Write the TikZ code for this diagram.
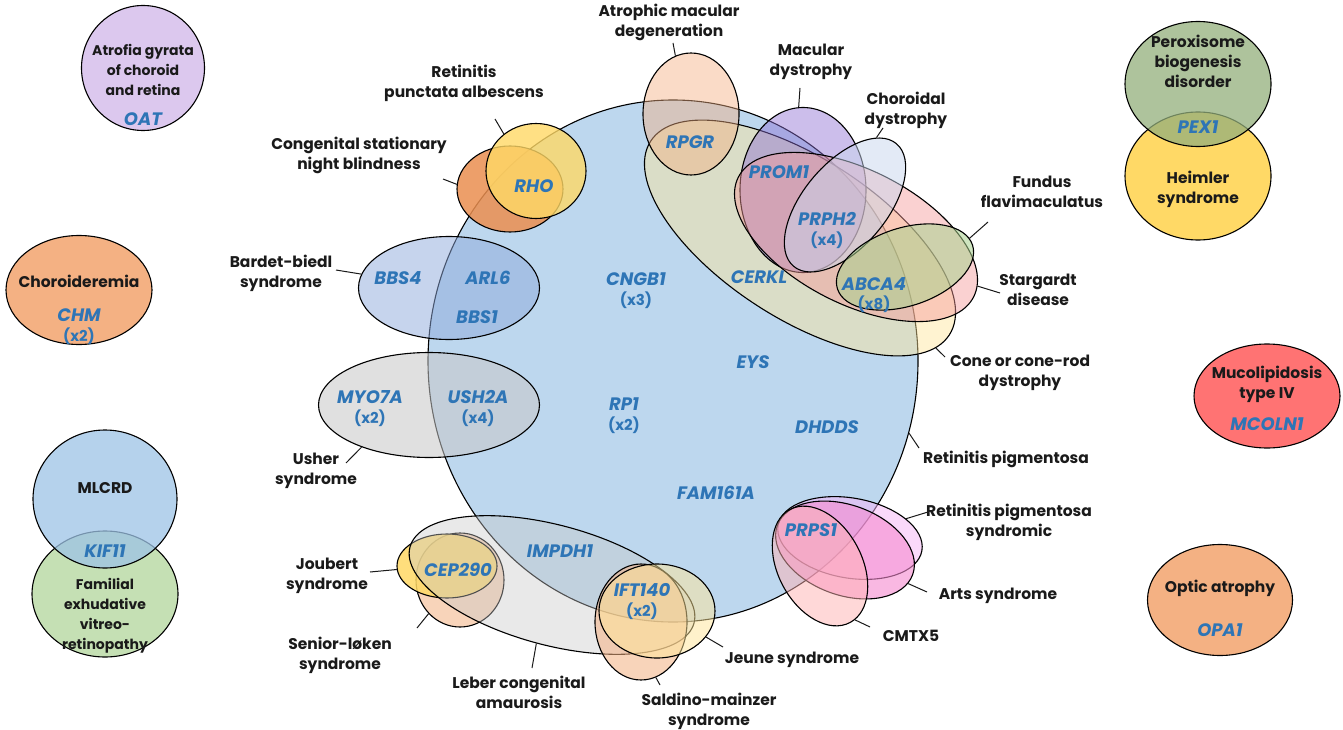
\documentclass[tikz,border=0pt]{standalone}
\usepackage{fontspec}
\setmainfont{Poppins}
\usetikzlibrary{shapes.geometric,calc}

\definecolor{ink}{HTML}{1A1A1A}
\definecolor{geneblue}{HTML}{2E75B6}
\definecolor{rpblue}{HTML}{BDD7EE}
\definecolor{orangeA}{HTML}{EB8F50}
\definecolor{yellowA}{HTML}{FFD966}
\definecolor{yellowB}{HTML}{FFE699}
\definecolor{bbsblue}{HTML}{8FAADC}
\definecolor{greyA}{HTML}{C8C8C8}
\definecolor{peach}{HTML}{F4B183}
\definecolor{purpleA}{HTML}{8E70D4}
\definecolor{steelA}{HTML}{C9D6EE}
\definecolor{pinkA}{HTML}{F59A9A}
\definecolor{greenA}{HTML}{A9D18E}
\definecolor{lilac}{HTML}{F7B4F7}
\definecolor{hotpink}{HTML}{F58AD0}
\definecolor{rose}{HTML}{FFB3B3}
\definecolor{lavender}{HTML}{DCC8EE}
\definecolor{skyA}{HTML}{9DC3E6}
\definecolor{mint}{HTML}{C5E0B4}
\definecolor{sage}{HTML}{93AF7C}
\definecolor{redA}{HTML}{FF7373}

\tikzset{
  ell/.style={ellipse, draw=black, line width=1.1pt, inner sep=0pt},
  lab/.style={font=\bfseries\fontsize{15.5}{20}\selectfont, text=ink, align=center, inner sep=1pt},
  sublab/.style={lab, font=\bfseries\fontsize{14}{20}\selectfont},
  gene/.style={font=\bfseries\itshape\fontsize{18}{20}\selectfont, text=geneblue, inner sep=1pt},
  cnt/.style={font=\bfseries\fontsize{15}{18}\selectfont, text=geneblue, inner sep=1pt},
  conn/.style={line width=1pt, draw=ink},
}

\begin{document}
\begin{tikzpicture}[x=1pt,y=-1pt]
  \useasboundingbox (0,0) rectangle (1343,730);
  \fill[white] (0,0) rectangle (1343,730);

  % retinitis pigmentosa
  \node[ell, fill=rpblue, minimum width=490, minimum height=522] (rp) at (673,361) {};

  % left cluster
  \node[ell, fill=orangeA, fill opacity=.85, minimum width=106, minimum height=86] (csnb) at (510,189) {};
  \node[ell, fill=yellowA, fill opacity=.8, minimum width=100, minimum height=95] (rpa) at (536,171) {};
  \node[ell, fill=bbsblue, fill opacity=.5, minimum width=181, minimum height=103] (bbs) at (449,288) {};
  \node[ell, fill=greyA, fill opacity=.55, minimum width=221, minimum height=105] (ush) at (429,405) {};

  % macular cluster
  \node[ell, fill=yellowB, fill opacity=.45, minimum width=356, minimum height=160, rotate=-33] (crd) at (800,238) {};
  \node[ell, fill=peach, fill opacity=.45, minimum width=96, minimum height=122] (amd) at (691,114) {};
  \node[ell, fill=purpleA, fill opacity=.45, minimum width=126, minimum height=165] (md) at (803,190) {};
  \node[ell, fill=pinkA, fill opacity=.45, minimum width=264, minimum height=134, rotate=-27] (stg) at (856,237) {};
  \node[ell, fill=steelA, fill opacity=.5, minimum width=160, minimum height=84, rotate=50] (cd) at (845,205) {};
  \node[ell, fill=greenA, fill opacity=.55, minimum width=142, minimum height=78, rotate=18] (ff) at (905,267) {};

  % bottom cluster
  \node[ell, fill=peach, fill opacity=.55, minimum width=88, minimum height=94] (sl) at (460,580) {};
  \node[ell, fill=yellowA, fill opacity=.85, minimum width=100, minimum height=64] (jou) at (447,566) {};
  \node[ell, fill=greyA, fill opacity=.4, minimum width=294, minimum height=120, rotate=-15] (lca) at (552,585) {};
  \node[ell, fill=peach, fill opacity=.55, minimum width=92, minimum height=116] (sal) at (641,622) {};
  \node[ell, fill=yellowB, fill opacity=.5, minimum width=116, minimum height=94] (jeu) at (657,611) {};

  % PRPS1 cluster
  \node[ell, fill=lilac, fill opacity=.5, minimum width=146, minimum height=80, rotate=-10] (rps) at (850,538) {};
  \node[ell, fill=hotpink, fill opacity=.6, minimum width=144, minimum height=90, rotate=-20] (arts) at (845,550) {};
  \node[ell, fill=rose, fill opacity=.5, minimum width=128, minimum height=84, rotate=-62] (cmt) at (820,566) {};

  % separate disorders
  \node[ell, fill=lavender, minimum width=123, minimum height=125] (agr) at (143,68) {};
  \node[ell, fill=peach, minimum width=146, minimum height=109] (chm) at (79,290) {};
  \node[ell, fill=mint, minimum width=146, minimum height=126] (fevr) at (105,594) {};
  \node[ell, fill=skyA, fill opacity=.75, minimum width=144, minimum height=138] (mlcrd) at (105,499) {};
  \node[ell, fill=yellowA, minimum width=146, minimum height=128] (heim) at (1198,176) {};
  \node[ell, fill=sage, fill opacity=.75, minimum width=146, minimum height=125] (pbd) at (1198,84) {};
  \node[ell, fill=redA, minimum width=146, minimum height=104] (mucol) at (1267,396) {};
  \node[ell, fill=peach, minimum width=145, minimum height=111] (opa) at (1220,600) {};

  % disease labels
  \node[lab] (amdL) at (669,22) {Atrophic macular\\degeneration};
  \node[lab] (mdL) at (811,62) {Macular\\dystrophy};
  \node[lab] (cdL) at (906,110) {Choroidal\\dystrophy};
  \node[lab] (ffL) at (1042,192) {Fundus\\flavimaculatus};
  \node[lab] (stgL) at (1038,290) {Stargardt\\disease};
  \node[lab] (crdL) at (1020,373) {Cone or cone-rod\\dystrophy};
  \node[lab] (rpL) at (1006,459) {Retinitis pigmentosa};
  \node[lab] (rpsL) at (1009,522) {Retinitis pigmentosa\\syndromic};
  \node[lab] (artsL) at (998,596) {Arts syndrome};
  \node[lab] (cmtL) at (911,636) {CMTX5};
  \node[lab] (jeuL) at (792,660) {Jeune syndrome};
  \node[lab] (salL) at (709,711) {Saldino-mainzer\\syndrome};
  \node[lab] (lcaL) at (519,692) {Leber congenital\\amaurosis};
  \node[lab] (slL) at (340,655) {Senior-løken\\syndrome};
  \node[lab] (jouL) at (327,576) {Joubert\\syndrome};
  \node[lab] (ushL) at (316,471) {Usher\\syndrome};
  \node[lab] (bbsL) at (281,273) {Bardet-biedl\\syndrome};
  \node[lab] (csnbL) at (359,155) {Congenital stationary\\night blindness};
  \node[lab] (rpaL) at (464,83) {Retinitis\\punctata albescens};

  \node[sublab] (agrL) at (143,70) {Atrofia gyrata\\of choroid\\and retina};
  \node[lab] (chmL) at (79,281) {Choroideremia};
  \node[lab] (mlcrdL) at (105,488) {MLCRD};
  \node[sublab] (fevrL) at (105,616) {Familial\\exhudative\\vitreo-\\retinopathy};
  \node[lab] (pbdL) at (1198,61) {Peroxisome\\biogenesis\\disorder};
  \node[lab] (heimL) at (1198,189) {Heimler\\syndrome};
  \node[lab] (mucolL) at (1267,384) {Mucolipidosis\\type IV};
  \node[lab] (opaL) at (1220,588) {Optic atrophy};

  % genes
  \node[gene] (g-rho) at (534,186) {RHO};
  \node[gene] (g-bbs4) at (398,278) {BBS4};
  \node[gene] (g-arl6) at (488,278) {ARL6};
  \node[gene] (g-bbs1) at (477,317) {BBS1};
  \node[gene] (g-myo7a) at (370,397) {MYO7A};
  \node[cnt] (n-myo7a) at (370,418) {(x2)};
  \node[gene] (g-ush2a) at (478,397) {USH2A};
  \node[cnt] (n-ush2a) at (478,418) {(x4)};
  \node[gene] (g-rpgr) at (690,142) {RPGR};
  \node[gene] (g-prom1) at (779,172) {PROM1};
  \node[gene] (g-prph2) at (827,219) {PRPH2};
  \node[cnt] (n-prph2) at (827,240) {(x4)};
  \node[gene] (g-cerkl) at (759,277) {CERKL};
  \node[gene] (g-abca4) at (874,284) {ABCA4};
  \node[cnt] (n-abca4) at (874,304) {(x8)};
  \node[gene] (g-cngb1) at (636,279) {CNGB1};
  \node[cnt] (n-cngb1) at (636,300) {(x3)};
  \node[gene] (g-eys) at (753,362) {EYS};
  \node[gene] (g-rp1) at (624,404) {RP1};
  \node[cnt] (n-rp1) at (624,425) {(x2)};
  \node[gene] (g-dhdds) at (827,427) {DHDDS};
  \node[gene] (g-fam) at (716,493) {FAM161A};
  \node[gene] (g-prps1) at (811,530) {PRPS1};
  \node[gene] (g-impdh1) at (560,551) {IMPDH1};
  \node[gene] (g-cep290) at (458,570) {CEP290};
  \node[gene] (g-ift140) at (642,590) {IFT140};
  \node[cnt] (n-ift140) at (642,611) {(x2)};
  \node[gene] (g-oat) at (143,119) {OAT};
  \node[gene] (g-chm) at (79,315) {CHM};
  \node[cnt] (n-chm) at (79,336) {(x2)};
  \node[gene] (g-kif11) at (105,551) {KIF11};
  \node[gene] (g-pex1) at (1198,127) {PEX1};
  \node[gene] (g-mcoln1) at (1267,424) {MCOLN1};
  \node[gene] (g-opa1) at (1220,630) {OPA1};

  % leader lines
  \draw[conn] ($(amdL)+(4,21)$) -- (amd.105);
  \draw[conn] ($(mdL)+(-11,26)$) -- (md.93);
  \draw[conn] ($(cdL)+(-23,18)$) -- (cd.15);
  \draw[conn] ($(ffL)+(-54,30)$) -- (ff.6);
  \draw[conn] ($(stgL)+(-38,3)$) -- (stg.5);
  \draw[conn] ($(crdL)+(-75,-16)$) -- (crd.-6);
  \draw[conn] ($(rpL)+(-87,-11)$) -- (rp.-17);
  \draw[conn] ($(rpsL)+(-81,-10)$) -- (rps.29);
  \draw[conn] ($(artsL)+(-71,-4)$) -- (arts.-8);
  \draw[conn] ($(cmtL)+(-41,-9)$) -- (cmt.5);
  \draw[conn] ($(jeuL)+(-69,-13)$) -- (jeu.-28);
  \draw[conn] ($(salL)+(-49,-26)$) -- (sal.-75);
  \draw[conn] ($(lcaL)+(13,-24)$) -- (lca.-90);
  \draw[conn] ($(slL)+(77,-27)$) -- (sl.227);
  \draw[conn] ($(jouL)+(43,-4)$) -- (jou.184);
  \draw[conn] ($(ushL)+(30,-8)$) -- (ush.212);
  \draw[conn] ($(bbsL)+(55,-3)$) -- (bbs.171);
  \draw[conn] ($(csnbL)+(84,24)$) -- (csnb.175);
  \draw[conn] ($(rpaL)+(31,36)$) -- (rpa.131);
\end{tikzpicture}
\end{document}
